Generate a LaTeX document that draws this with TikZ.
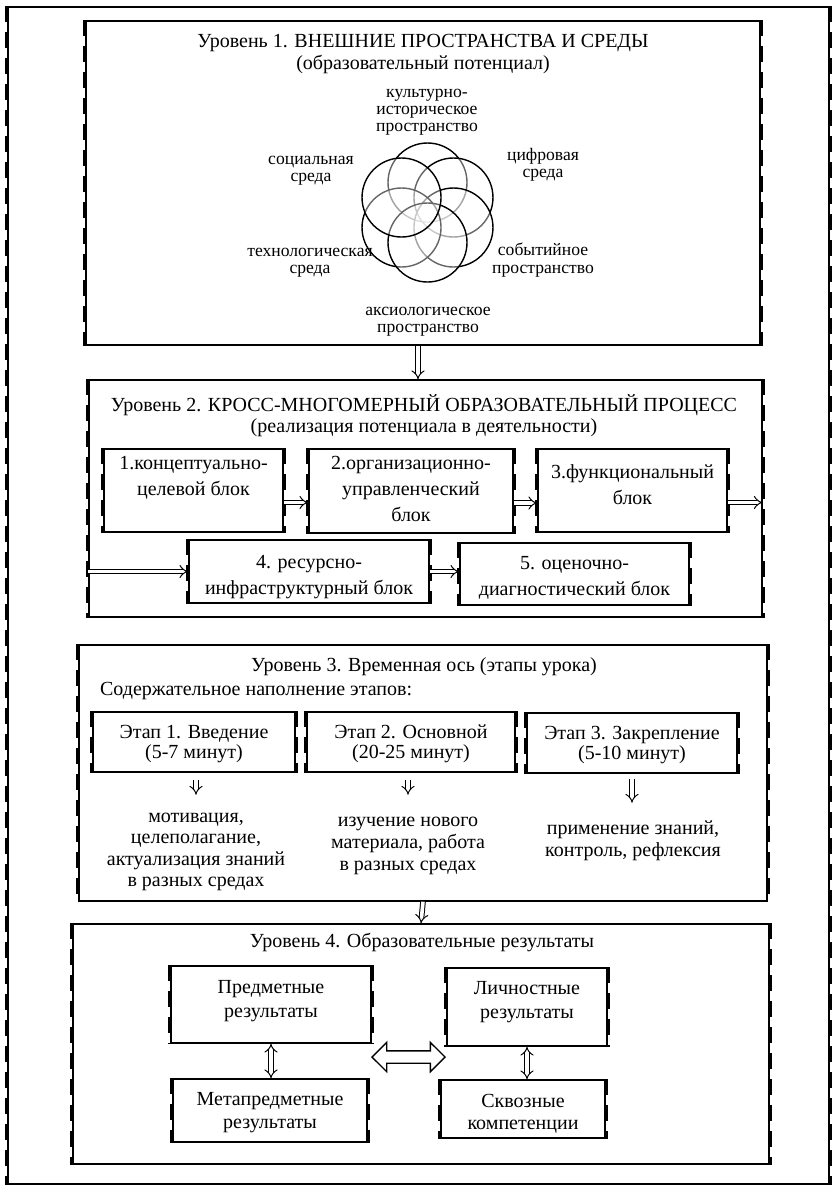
\documentclass[tikz,border=0pt]{standalone}
\usepackage{fontspec}
\setmainfont{Liberation Serif}
\usetikzlibrary{arrows.meta,fit,shapes.arrows}
\tikzset{
  % thin frame of a box
  wordbox/.style={draw,line width=0.7pt,inner sep=0pt},
  % text of a box
  boxtext/.style={align=center,inner sep=0pt,font=\fontsize{10}{13}\selectfont},
  % thick broken left and right sides
  side dash/.style={line width=1.9pt,dash pattern=on 8pt off 5pt},
  % hollow arrows
  hollow/.style={double,double distance=1.8pt,line width=0.5pt,-{Implies}},
  both hollow/.style={double,double distance=1.8pt,line width=0.5pt,{Implies}-{Implies}},
  lvltitle/.style={align=center,font=\fontsize{10}{11}\selectfont},
  ringlabel/.style={align=center,font=\fontsize{8.8}{8.6}\selectfont},
  ring/.style={draw,line width=0.7pt,fill=white,fill opacity=0.4},
}

\begin{document}
\begin{tikzpicture}[x=0.5pt,y=-0.5pt]
\useasboundingbox (0,0) rectangle (840,1195);
% frames of the levels
\node[wordbox,fit={(8,7) (829,1184)}] (frame) {};
\node[wordbox,fit={(86,21) (760,345)}] (lvl1) {};
\node[wordbox,fit={(89,380) (762,617)}] (lvl2) {};
\node[wordbox,fit={(79,645) (767,901)}] (lvl3) {};
\node[wordbox,fit={(73,924) (769,1164)}] (lvl4) {};

% level 1
\node[lvltitle] (t1) at (423,43) {Уровень 1. ВНЕШНИЕ ПРОСТРАНСТВА И СРЕДЫ};
\node[lvltitle] (s1) at (423,64) {(образовательный потенциал)};
\coordinate (flower) at (427.5,212.5);
\foreach \a in {-90,-30,30,150,90,-150}
  \draw[ring] (flower) ++(\a:30) circle[radius=39.5];
\node[ringlabel] (cult) at (427,112) {культурно-\\историческое\\пространство};
\node[ringlabel] (soc) at (311,171) {социальная\\среда};
\node[ringlabel] (dig) at (543,165) {цифровая\\среда};
\node[ringlabel] (tech) at (310,263) {технологическая\\среда};
\node[ringlabel] (event) at (543,260) {событийное\\пространство};
\node[ringlabel] (axio) at (428,322) {аксиологическое\\пространство};

% level 2
\node[lvltitle] (t2) at (424,405) {Уровень 2. КРОСС-МНОГОМЕРНЫЙ ОБРАЗОВАТЕЛЬНЫЙ ПРОЦЕСС};
\node[lvltitle] (s2) at (424,428) {(реализация потенциала в деятельности)};
\node[wordbox,fit={(104,449) (283,532)}] (blk1) {};
\node[wordbox,fit={(309,449) (513,533)}] (blk2) {};
\node[wordbox,fit={(538,449) (727,532)}] (blk3) {};
\node[wordbox,fit={(189,540) (429,603)}] (blk4) {};
\node[wordbox,fit={(460,543) (689,605)}] (blk5) {};
\node[boxtext] (blk1t) at ([yshift=6.5pt]blk1.center) {1.концептуально-\\целевой блок};
\node[boxtext] (blk2t) at ([yshift=1pt]blk2.center) {2.организационно-\\управленческий\\блок};
\node[boxtext] (blk3t) at ([yshift=2.75pt]blk3.center) {3.функциональный\\блок};
\node[boxtext] (blk4t) at ([yshift=-3pt]blk4.center) {4. ресурсно-\\инфраструктурный блок};
\node[boxtext] (blk5t) at ([yshift=-1.75pt]blk5.center) {5. оценочно-\\диагностический блок};

% level 3
\node[lvltitle] (t3) at (424,667) {Уровень 3. Временная ось (этапы урока)};
\node[lvltitle,anchor=west] (s3) at (93,691) {Содержательное наполнение этапов:};
\node[wordbox,fit={(93,712) (295,772)}] (stg1) {};
\node[wordbox,fit={(307,712) (515,772)}] (stg2) {};
\node[wordbox,fit={(527,713) (737,773)}] (stg3) {};
\foreach \s/\txt in {stg1/{Этап 1. Введение\\(5-7 минут)},
                     stg2/{Этап 2. Основной\\(20-25 минут)},
                     stg3/{Этап 3. Закрепление\\(5-10 минут)}}
  \node[boxtext,font=\fontsize{10}{10}\selectfont] (\s t) at ([yshift=-1pt]\s.center) {\txt};
\node[lvltitle,font=\fontsize{10}{10.8}\selectfont] (act1) at (196,852) {мотивация,\\целеполагание,\\актуализация знаний\\в разных средах};
\node[lvltitle,font=\fontsize{10}{10.8}\selectfont] (act2) at (408,846) {изучение нового\\материала, работа\\в разных средах};
\node[lvltitle,font=\fontsize{10}{10.8}\selectfont] (act3) at (633,841) {применение знаний,\\контроль, рефлексия};

% level 4
\node[lvltitle] (t4) at (422,942) {Уровень 4. Образовательные результаты};
\node[wordbox,fit={(171,966) (371,1043)}] (pred) {};
\node[wordbox,fit={(447,968) (607,1046)}] (lich) {};
\node[wordbox,fit={(173,1079) (367,1142)}] (meta) {};
\node[wordbox,fit={(441,1080) (605,1138)}] (skv) {};
\node[boxtext,font=\fontsize{10}{12}\selectfont] (predt) at ([yshift=1.75pt]pred.center) {Предметные\\результаты};
\node[boxtext,font=\fontsize{10}{12}\selectfont] (licht) at ([yshift=2.5pt]lich.center) {Личностные\\результаты};
\node[boxtext,font=\fontsize{10}{11.5}\selectfont] (metat) at ([yshift=-1pt]meta.center) {Метапредметные\\результаты};
\node[boxtext,font=\fontsize{10}{11}\selectfont] (skvt) at ([yshift=-2.5pt]skv.center) {Сквозные\\компетенции};
\node[double arrow,draw,line width=0.7pt,minimum height=36.5pt,inner sep=2.75pt,
  double arrow head extend=4.25pt] (bothway) at (408.5,1057) {};

% thick sides
\foreach \b in {frame,lvl1,lvl2,lvl3,lvl4,blk1,blk2,blk3,blk4,blk5,stg1,stg2,stg3,pred,lich,meta,skv}
  \draw[side dash] (\b.north west) -- (\b.south west) (\b.north east) -- (\b.south east);

% arrows
\draw[hollow] ([xshift=-2.5pt]lvl1.south) -- ([xshift=-2.5pt]lvl1.south |- lvl2.north);
\draw[hollow] ([yshift=-6pt]blk1.east) -- ([yshift=-6pt]blk1.east -| blk2.west);
\draw[hollow] ([yshift=-6pt]blk2.east) -- ([yshift=-6pt]blk2.east -| blk3.west);
\draw[hollow] ([yshift=-6pt]blk3.east) -- ([yshift=-6pt]blk3.east -| lvl2.east);
\draw[hollow] (blk4.west -| lvl2.west) -- (blk4.west);
\draw[hollow] (blk4.east) -- (blk4.east -| blk5.west);
\draw[hollow] ([xshift=1pt,yshift=-3.5pt]stg1.south) -- ([xshift=1pt,yshift=-11pt]stg1.south);
\draw[hollow] ([xshift=-1.5pt,yshift=-3.5pt]stg2.south) -- ([xshift=-1.5pt,yshift=-11pt]stg2.south);
\draw[hollow] ([yshift=-2.5pt]stg3.south) -- ([yshift=-14.5pt]stg3.south);
\draw[hollow] (lvl3.south) -- (lvl4.north);
\draw[both hollow] (pred.south) -- (pred.south |- meta.north);
\draw[both hollow] (lich.south) -- (lich.south |- skv.north);
\end{tikzpicture}
\end{document}
